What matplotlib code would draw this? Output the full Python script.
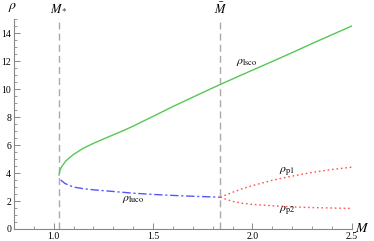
import matplotlib
matplotlib.use('Agg')
import matplotlib.pyplot as plt
from matplotlib.ticker import MultipleLocator

plt.rcParams['font.family'] = ['Liberation Serif', 'DejaVu Serif']
plt.rcParams['mathtext.fontset'] = 'stix'

# values
m_star = 1.027
m_bar = 1.838

m_lsco = [1.027, 1.03, 1.04, 1.06, 1.08, 1.1, 1.15, 1.2, 1.25, 1.3, 1.35, 1.4,
          1.45, 1.5, 1.6, 1.7, 1.8, 1.9, 2.0, 2.1, 2.2, 2.3, 2.4, 2.5]
rho_lsco = [3.86, 4.15, 4.45, 4.85, 5.1, 5.33, 5.78, 6.12, 6.43, 6.73, 7.03, 7.35,
            7.7, 8.05, 8.75, 9.42, 10.08, 10.72, 11.35, 11.97, 12.6, 13.25, 13.88, 14.5]

m_luco = [1.027, 1.035, 1.056, 1.08, 1.106, 1.15, 1.2, 1.3, 1.4, 1.5, 1.6, 1.7, 1.838]
rho_luco = [3.86, 3.5, 3.26, 3.1, 2.98, 2.88, 2.8, 2.68, 2.56, 2.47, 2.4, 2.34, 2.27]

m_p = [1.838, 1.9, 1.95, 2.0, 2.1, 2.2, 2.3, 2.4, 2.5]
rho_p1 = [2.27, 2.62, 2.88, 3.1, 3.48, 3.78, 4.04, 4.25, 4.42]
rho_p2 = [2.27, 1.97, 1.84, 1.76, 1.66, 1.58, 1.53, 1.5, 1.47]

fig = plt.figure(figsize=(3.74, 2.41), dpi=100)
ax = fig.add_axes([0.0374, 0.0498, 0.903, 0.871])

ax.axvline(m_star, color='#aaaaaa', lw=1.0, ls=(0, (5, 3)))
ax.axvline(m_bar, color='#aaaaaa', lw=1.0, ls=(0, (5, 3)))

ax.plot(m_lsco, rho_lsco, color='#55c855', lw=1.0)
ax.plot(m_luco[1:], rho_luco[1:], color='#5555ff', lw=1.0, ls=(0, (6, 2, 1.5, 2)))
ax.plot(m_p, rho_p1, color='#ff5555', lw=1.0, ls=(0, (1.2, 2)))
ax.plot(m_p, rho_p2, color='#ff5555', lw=1.0, ls=(0, (1.2, 2)))

ax.set_xlim(0.8, 2.5)
ax.set_ylim(0, 15)
for s in ['top', 'right']:
    ax.spines[s].set_visible(False)
for s in ['left', 'bottom']:
    ax.spines[s].set_color('#888888')
    ax.spines[s].set_linewidth(0.8)

ax.xaxis.set_minor_locator(MultipleLocator(0.1))
ax.yaxis.set_major_locator(MultipleLocator(2))
ax.yaxis.set_minor_locator(MultipleLocator(0.5))
ax.tick_params(which='both', direction='in', color='#888888', labelsize=7, pad=2)
ax.tick_params(which='major', length=4, width=0.7)
ax.tick_params(which='minor', length=2, width=0.6)
ax.set_xticks([1.0, 1.5, 2.0, 2.5])
ax.set_xticklabels(['1.0', '1.5', '2.0', '2.5'])

fig.text(13 / 374, 1 - 8 / 241, r'$\rho$', fontsize=10, ha='center', va='center')
fig.text(362 / 374, 1 - 228 / 241, r'$M$', fontsize=10, ha='center', va='center')
ax.text(m_star, 15.7, r'$M_*$', fontsize=9, ha='center', va='center', clip_on=False)
ax.text(m_bar, 15.7, r'$\bar{M}$', fontsize=9, ha='center', va='center', clip_on=False)

ax.text(1.973, 11.95, r'$\rho_{\rm lsco}$', fontsize=8.5, ha='center', va='center')
ax.text(1.40, 2.12, r'$\rho_{\rm luco}$', fontsize=8.5, ha='center', va='center')
ax.text(2.173, 4.09, r'$\rho_{\rm p1}$', fontsize=8.5, ha='center', va='center')
ax.text(2.173, 1.31, r'$\rho_{\rm p2}$', fontsize=8.5, ha='center', va='center')

fig.savefig('out.png', dpi=100)
